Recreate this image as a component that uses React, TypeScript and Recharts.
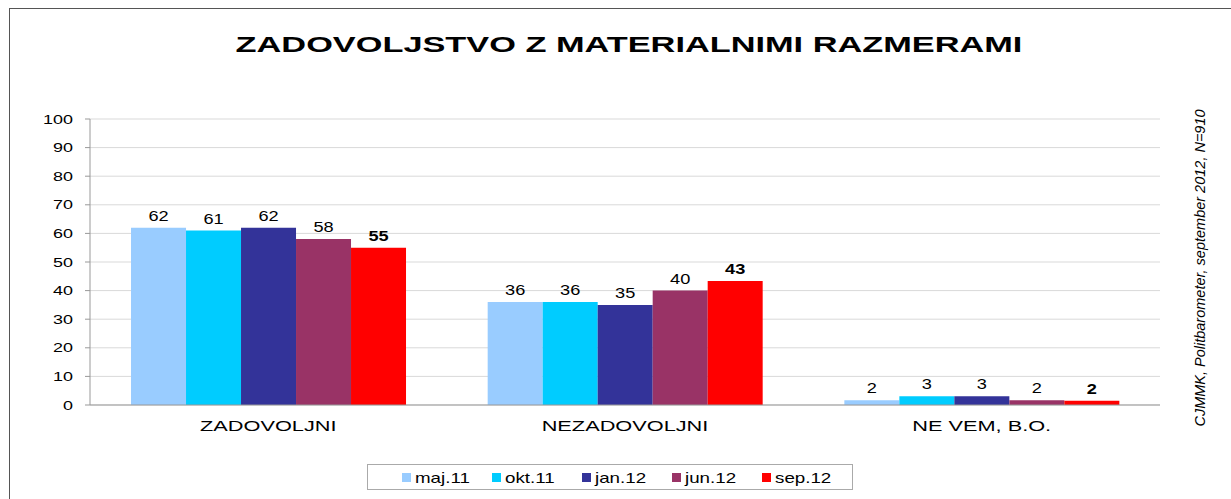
import React from "react";
import { BarChart, Bar, XAxis, YAxis, CartesianGrid, LabelList } from "recharts";

const categories = ["ZADOVOLJNI", "NEZADOVOLJNI", "NE VEM, B.O."];
const seriesNames = ["maj.11", "okt.11", "jan.12", "jun.12", "sep.12"];
const seriesColors = ["#99CCFF", "#00CCFF", "#333399", "#993366", "#FF0000"];
const maj11 = [62, 36, 1.7];
const okt11 = [61, 36, 3.1];
const jan12 = [62, 35, 3.1];
const jun12 = [58, 40, 1.7];
const sep12 = [55, 43.4, 1.5];
const yTicks = [0, 10, 20, 30, 40, 50, 60, 70, 80, 90, 100];

const seriesValues = [maj11, okt11, jan12, jun12, sep12];
const data = categories.map((c, i) => {
  const row: Record<string, string | number> = { name: c };
  seriesNames.forEach((s, j) => {
    row[s] = seriesValues[j][i];
  });
  return row;
});

const FONT = "'Liberation Sans', Arial, sans-serif";

// the source image is stretched sideways, so text is widened to match
const YTick = (props: any) => {
  const { x, y, payload } = props;
  return (
    <text transform={`translate(${x},${y}) scale(1.38,1)`} textAnchor="end" dy="0.35em" fontSize={13} fill="#000" fontFamily={FONT}>
      {payload.value}
    </text>
  );
};

const XTick = (props: any) => {
  const { x, y, payload } = props;
  return (
    <text transform={`translate(${x},${y}) scale(1.45,1)`} textAnchor="middle" dy="0.9em" fontSize={15} fill="#000" fontFamily={FONT}>
      {payload.value}
    </text>
  );
};

const makeLabel = (bold: boolean) => (props: any) => {
  const { x, y, width, value } = props;
  return (
    <text
      transform={`translate(${x + width / 2},${y - 7}) scale(1.3,1)`}
      textAnchor="middle"
      fontSize={14}
      fontWeight={bold ? "bold" : "normal"}
      fill="#000"
      fontFamily={FONT}
    >
      {Math.round(value)}
    </text>
  );
};

export default function App() {
  return (
    <div style={{ position: "absolute", left: 0, top: 0, width: 1231, height: 499, background: "#fff", fontFamily: FONT, overflow: "hidden" }}>
      {/* outer frame */}
      <div style={{ position: "absolute", left: 9, top: 8, width: 1240, height: 520, border: "1px solid #555" }} />
      <div
        style={{
          position: "absolute",
          left: 629,
          top: 32,
          transform: "translateX(-50%) scaleX(1.56)",
          whiteSpace: "nowrap",
          fontSize: 22,
          fontWeight: "bold",
          color: "#000",
        }}
      >
        ZADOVOLJSTVO Z MATERIALNIMI RAZMERAMI
      </div>
      <BarChart
        width={1231}
        height={499}
        data={data}
        margin={{ top: 119, right: 71, bottom: 64, left: 50 }}
        barCategoryGap="11.5%"
        barGap={0}
        style={{ position: "absolute", left: 0, top: 0 }}
      >
        <CartesianGrid vertical={false} stroke="#d9d9d9" />
        <XAxis
          dataKey="name"
          height={30}
          axisLine={{ stroke: "#999" }}
          tickLine={false}
          tick={<XTick />}
          tickMargin={6}
        />
        <YAxis
          width={40}
          domain={[0, 100]}
          ticks={yTicks}
          interval={0}
          axisLine={{ stroke: "#999" }}
          tickLine={{ stroke: "#999" }}
          tickSize={5}
          tick={<YTick />}
          tickMargin={12}
        />
        <YAxis
          yAxisId="right"
          orientation="right"
          width={0}
          domain={[0, 100]}
          tick={false}
          tickLine={false}
          axisLine={{ stroke: "#bbb" }}
        />
        {seriesNames.map((s, j) => (
          <Bar key={s} dataKey={s} fill={seriesColors[j]} isAnimationActive={false}>
            <LabelList dataKey={s} content={makeLabel(j === 4)} />
          </Bar>
        ))}
      </BarChart>
      {/* legend */}
      <div
        style={{
          position: "absolute",
          left: 367,
          top: 464,
          width: 486,
          height: 26,
          boxSizing: "border-box",
          border: "1px solid #aaa",
          display: "flex",
          alignItems: "center",
          paddingLeft: 34,
          fontSize: 15,
        }}
      >
        {seriesNames.map((s, j) => (
          <span key={s} style={{ display: "flex", alignItems: "center", width: 90 }}>
            <span style={{ width: 9, height: 9, background: seriesColors[j], marginRight: 4, display: "inline-block" }} />
            <span style={{ display: "inline-block", transform: "scaleX(1.25)", transformOrigin: "left center" }}>{s}</span>
          </span>
        ))}
      </div>
      {/* source note */}
      <div
        style={{
          position: "absolute",
          left: 1200,
          top: 268,
          transform: "translate(-50%, -50%) rotate(-90deg)",
          whiteSpace: "nowrap",
          fontSize: 14.5,
          fontStyle: "italic",
          color: "#000",
        }}
      >
        CJMMK, Politbarometer, september 2012, N=910
      </div>
    </div>
  );
}
